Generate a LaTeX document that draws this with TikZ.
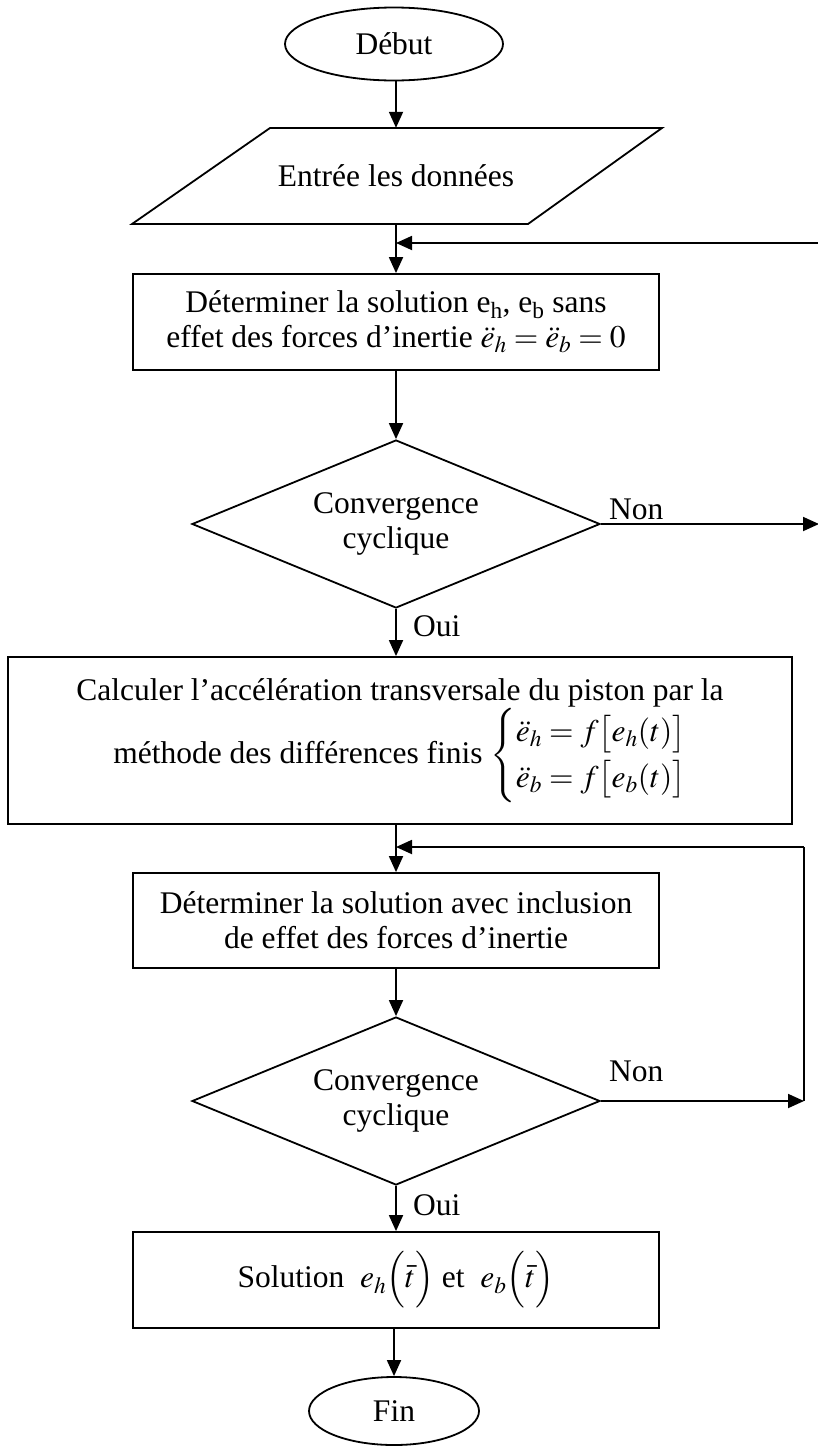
\documentclass[tikz,border=0pt]{standalone}
\usepackage{mathptmx}
\usepackage{fontspec}
\setmainfont{Liberation Serif}
\usetikzlibrary{shapes.geometric,arrows.meta}
\tikzset{
  txt/.style={font=\fontsize{31.5}{35}\selectfont, inner sep=0pt, align=center},
  term/.style={txt, ellipse, draw, line width=1.8pt},
  procbox/.style={txt, rectangle, draw, line width=1.8pt},
  decision/.style={txt, diamond, draw, line width=1.8pt, shape aspect=2.43, minimum width=408pt, minimum height=168pt},
  conn/.style={line width=1.8pt},
  arr/.style={line width=1.8pt, -{Triangle[length=16pt,width=14pt]}},
  lbl/.style={font=\fontsize{31.5}{35}\selectfont, inner sep=0pt, anchor=base west}
}
\begin{document}
\begin{tikzpicture}[x=1pt,y=-1pt]
\useasboundingbox (0,0) rectangle (817,1446);
% nodes
\node[term, minimum width=218pt, minimum height=73pt] (debut) at (394,44) {Début};
\draw[line width=1.8pt, line join=miter] (132,224) -- (528,224) -- (662,128) -- (270,128) -- cycle;
\node[txt, minimum width=530pt, minimum height=96pt] (para) at (396,176) {Entrée les données};
\node[procbox, minimum width=526pt, minimum height=96pt] (box1) at (396,322)
  {Déterminer la solution e\textsubscript{h}, e\textsubscript{b} sans\\
   effet des forces d’inertie $\ddot{e}_h = \ddot{e}_b = 0$};
\node[decision] (dia1) at (396,524) {Convergence\\cyclique};
\node[procbox, minimum width=784pt, minimum height=167pt] (box2) at (400,740.5)
  {Calculer l’accélération transversale du piston par la\\
   méthode des différences finis
   $\renewcommand{\arraystretch}{1.3}\left\{\begin{array}{@{}l@{}}
     \ddot{e}_h = f\bigl[e_h(t)\bigr]\\
     \ddot{e}_b = f\bigl[e_b(t)\bigr]
   \end{array}\right.$};
\node[procbox, minimum width=526pt, minimum height=95pt] (box3) at (396,920.5)
  {Déterminer la solution avec inclusion\\de effet des forces d’inertie};
\node[decision] (dia2) at (396,1101) {Convergence\\cyclique};
\node[procbox, minimum width=526pt, minimum height=96pt] (box4) at (396,1280)
  {Solution \ $e_h\Bigl(\bar{t}\Bigr)$ et \ $e_b\Bigl(\bar{t}\Bigr)$};
\node[term, minimum width=170pt, minimum height=68pt] (fin) at (394,1411) {Fin};
% labels
\node[lbl] (non1) at (609,519) {Non};
\node[lbl] (oui1) at (413,636) {Oui};
\node[lbl] (non2) at (609,1081) {Non};
\node[lbl] (oui2) at (413,1215) {Oui};
% coordinates
\coordinate (j1) at (396,243);
\coordinate (r1a) at (819,524);
\coordinate (r1b) at (819,243);
\coordinate (j2) at (396,847);
\coordinate (r2a) at (804,1101);
\coordinate (r2b) at (804,847);
% connectors
\draw[arr] (debut.south -| para.north) -- (para.north);
\draw[arr] (para.south) -- (box1.north);
\draw[arr] (box1.south) -- (dia1.north);
\draw[arr] (dia1.south) -- (dia1.south |- box2.north);
\draw[arr] (dia1.south |- box2.south) -- (box3.north);
\draw[arr] (box3.south) -- (dia2.north);
\draw[arr] (dia2.south) -- (box4.north);
\draw[arr] (box4.south -| fin.north) -- (fin.north);
% loops
\draw[arr] (dia1.east) -- (r1a);
\draw[conn] (r1a) -- (r1b);
\draw[arr] (r1b) -- (j1);
\draw[arr] (dia2.east) -- (r2a);
\draw[conn, line join=miter] (r2a) -- (r2b);
\draw[arr] (r2b) -- (j2);
\end{tikzpicture}
\end{document}
